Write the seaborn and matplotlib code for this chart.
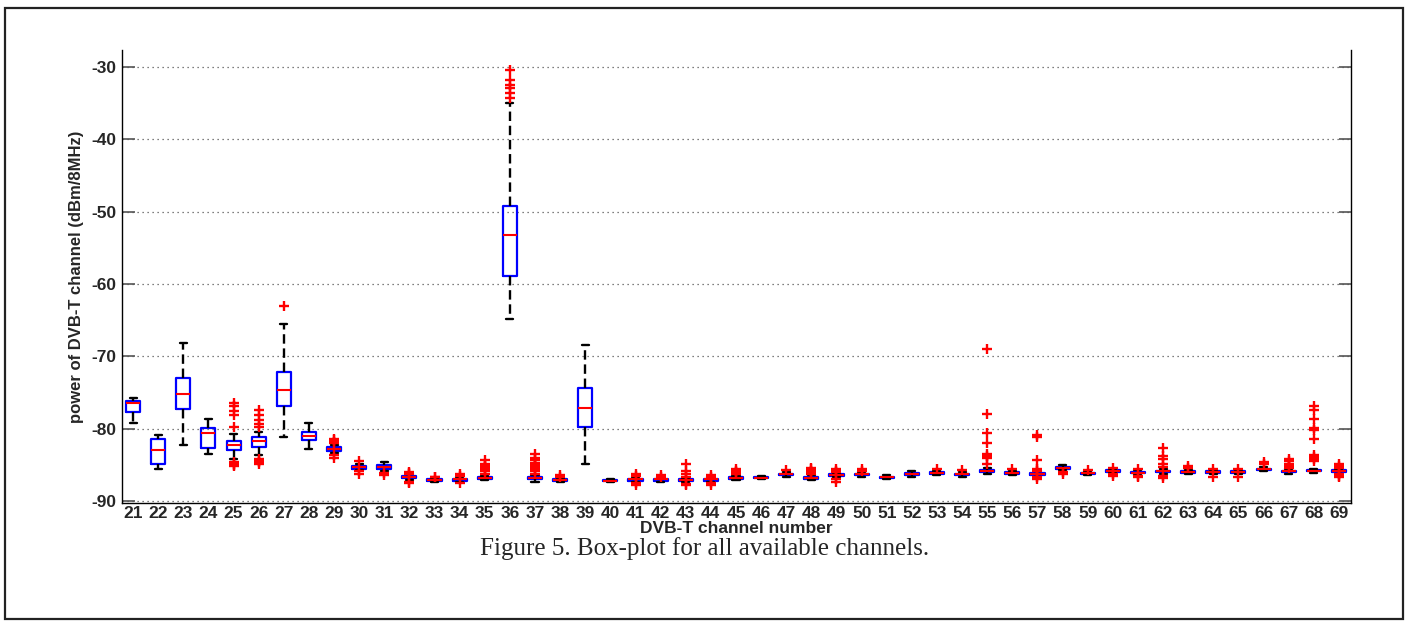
import numpy as np
import pandas as pd
import matplotlib
matplotlib.use("Agg")
import matplotlib.pyplot as plt
from matplotlib.patches import Rectangle
import seaborn as sns

# ---------------- data ----------------
channels = list(range(21, 70))

whisk_hi = [-75.8, -80.8, -68.2, -78.6, -80.7, -80.4, -65.6, -79.2, -82.3, -84.9,
            -84.6, -86.3, -86.8, -86.7, -86.5, -35.0, -86.4, -86.8, -68.5, -86.9,
            -86.7, -86.7, -86.8, -86.7, -86.5, -86.5, -86.0, -86.4, -86.1, -86.0,
            -86.45, -85.9, -85.8, -86.0, -85.4, -85.8, -85.9, -85.0, -85.9, -85.6,
            -85.7, -85.6, -85.7, -85.7, -85.7, -85.3, -85.6, -85.5, -85.5]
q3 = [-76.1, -81.4, -73.0, -79.9, -81.7, -81.2, -72.1, -80.5, -82.55, -85.1,
      -85.0, -86.55, -86.95, -86.9, -86.7, -49.3, -86.6, -87.0, -74.4, -87.05,
      -86.9, -86.9, -87.0, -86.9, -86.7, -86.65, -86.2, -86.6, -86.3, -86.2,
      -86.6, -86.15, -86.0, -86.2, -85.7, -86.0, -86.15, -85.25, -86.05, -85.75,
      -85.95, -85.8, -85.9, -85.9, -85.9, -85.5, -85.8, -85.7, -85.75]
median = [-76.5, -83.0, -75.25, -80.55, -82.2, -81.7, -74.6, -81.0, -82.8, -85.3,
          -85.3, -86.7, -87.1, -87.0, -86.85, -53.3, -86.75, -87.1, -77.1, -87.15,
          -87.0, -87.0, -87.1, -87.0, -86.85, -86.75, -86.3, -86.75, -86.4, -86.3,
          -86.7, -86.25, -86.1, -86.3, -85.8, -86.1, -86.25, -85.4, -86.15, -85.85,
          -86.05, -85.9, -86.0, -86.0, -86.0, -85.6, -85.9, -85.8, -85.85]
q1 = [-77.7, -84.9, -77.3, -82.6, -82.95, -82.45, -76.8, -81.5, -83.05, -85.5,
      -85.6, -86.85, -87.2, -87.15, -86.95, -58.97, -86.95, -87.2, -79.8, -87.25,
      -87.15, -87.15, -87.2, -87.15, -86.95, -86.85, -86.4, -86.9, -86.5, -86.4,
      -86.8, -86.35, -86.2, -86.4, -85.95, -86.2, -86.35, -85.55, -86.25, -85.95,
      -86.15, -86.0, -86.1, -86.1, -86.1, -85.7, -86.0, -85.9, -85.95]
whisk_lo = [-79.2, -85.6, -82.3, -83.5, -84.2, -83.6, -81.2, -82.8, -83.3, -85.7,
            -85.9, -87.1, -87.35, -87.3, -87.1, -64.85, -87.3, -87.35, -84.85, -87.4,
            -87.3, -87.3, -87.4, -87.3, -87.1, -87.0, -86.6, -87.1, -86.7, -86.6,
            -86.95, -86.6, -86.4, -86.6, -86.2, -86.4, -86.6, -85.7, -86.4, -86.1,
            -86.35, -86.2, -86.3, -86.3, -86.3, -85.9, -86.2, -86.1, -86.2]

outliers = {
    25: [-76.4, -76.9, -77.6, -78.1, -79.7, -84.6, -84.8, -85.0, -85.2],
    26: [-77.4, -78.1, -78.75, -79.35, -79.7, -84.2, -84.4, -84.6, -84.8],
    27: [-63.0],
    29: [-81.4, -81.6, -81.8, -82.0, -83.6, -84.0],
    30: [-84.5, -85.9, -86.2],
    31: [-86.1, -86.4],
    32: [-86.0, -86.1, -86.2, -87.3, -87.5],
    33: [-86.6, -86.7],
    34: [-86.3, -86.5, -87.5],
    35: [-84.3, -84.8, -85.0, -85.3, -85.6, -85.9, -86.2],
    36: [-30.4, -31.9, -32.5, -33.0, -33.6, -34.3],
    37: [-83.5, -84.0, -84.3, -84.7, -85.0, -85.3, -85.6, -85.9, -86.2],
    38: [-86.4, -86.6],
    41: [-86.3, -86.5, -87.5, -87.8],
    42: [-86.4, -86.6],
    43: [-84.9, -85.8, -86.3, -86.6, -87.6, -87.8],
    44: [-86.4, -86.6, -87.5, -87.7],
    45: [-85.5, -85.8, -86.0, -86.2],
    47: [-85.7],
    48: [-85.4, -85.6, -85.8, -86.0, -86.2],
    49: [-85.5, -85.8, -86.0, -87.0, -87.3],
    50: [-85.5, -85.8],
    53: [-85.5],
    54: [-85.7],
    55: [-69.0, -78.0, -80.6, -81.9, -83.5, -83.8, -84.0, -84.9],
    56: [-85.6],
    57: [-80.8, -81.1, -84.3, -85.5, -85.7, -85.9, -86.7, -87.0],
    58: [-86.0, -86.3],
    59: [-85.7],
    60: [-85.4, -86.3, -86.5],
    61: [-85.6, -86.5, -86.7],
    62: [-82.6, -83.7, -84.2, -84.8, -85.3, -86.5, -86.8],
    63: [-85.1, -85.4],
    64: [-85.5, -86.6],
    65: [-85.6, -86.6],
    66: [-84.6, -84.9],
    67: [-84.2, -84.5, -84.8, -85.1, -85.4],
    68: [-76.9, -77.4, -78.65, -79.9, -80.2, -81.4, -83.6, -83.9, -84.2, -84.5],
    69: [-84.8, -85.1, -85.4, -86.3, -86.5, -86.7],
}

y_ticks = [-90, -80, -70, -60, -50, -40, -30]
x_label = "DVB-T channel number"
y_label = "power of DVB-T channel (dBm/8MHz)"
caption = "Figure 5. Box-plot for all available channels."

# ---------------- tidy frames ----------------
box_rows = []
for i, ch in enumerate(channels):
    for v in (whisk_lo[i], q1[i], median[i], q3[i], whisk_hi[i]):
        box_rows.append({"channel": ch, "power": v})
box_df = pd.DataFrame(box_rows)

fl_rows = [{"channel": ch, "power": v} for ch, vals in outliers.items() for v in vals]
fl_df = pd.DataFrame(fl_rows)

# ---------------- plotting ----------------
sns.set_style("white")
plt.rcParams["font.family"] = ["Liberation Sans", "DejaVu Sans"]

fig = plt.figure(figsize=(14.12, 6.23), dpi=100)
ax = fig.add_axes([122 / 1412, 1 - 503 / 623, (1351 - 122) / 1412, (503 - 50) / 623])

sns.boxplot(data=box_df, x="channel", y="power", native_scale=True,
            whis=(0, 100), showfliers=False, fill=False, width=0.56,
            color="#0000ff", linewidth=1.6, ax=ax,
            boxprops=dict(color="#0000ff", linewidth=1.6),
            medianprops=dict(color="#ff0000", linewidth=1.5),
            whiskerprops=dict(color="black", linewidth=1.7, linestyle=(0, (4, 2))),
            capprops=dict(color="black", linewidth=1.7))

sns.scatterplot(data=fl_df, x="channel", y="power", marker="+", color="#ff0000",
                s=45, linewidth=1.7, ax=ax, legend=False, zorder=5)

ax.set_xlim(20.56, 69.48)
ax.set_ylim(-90.25, -27.7)
ax.set_xticks(channels)
ax.set_xticklabels([str(c) for c in channels], fontsize=12.5, fontweight="bold")
ax.set_yticks(y_ticks)
ax.set_yticklabels([str(t) for t in y_ticks], fontsize=12.5, fontweight="bold")
ax.tick_params(axis="x", length=0, pad=2)
ax.tick_params(axis="y", direction="in", length=9, width=1.2, color="#555555",
               left=True, right=True, labelright=False, pad=4)
ax.yaxis.grid(True, linestyle=(0, (1, 3)), color="#555555", linewidth=0.9)
ax.xaxis.grid(False)
ax.set_xlabel(x_label, fontsize=12.5, fontweight="bold", labelpad=0)
ax.set_ylabel(y_label, fontsize=12, fontweight="bold", labelpad=5)

for side in ("left", "bottom", "right"):
    ax.spines[side].set_visible(True)
    ax.spines[side].set_color("black")
    ax.spines[side].set_linewidth(1.0)
ax.spines["top"].set_visible(False)

fig.text(0.499, 1 - 549 / 623, caption, ha="center", va="center",
         fontsize=18, family=["Liberation Serif", "DejaVu Serif"])

fig.patches.append(Rectangle((5 / 1412, 4 / 623), 1398 / 1412, 611 / 623,
                             transform=fig.transFigure, fill=False,
                             edgecolor="#222222", linewidth=1.6))

fig.savefig("out.png", dpi=100)
